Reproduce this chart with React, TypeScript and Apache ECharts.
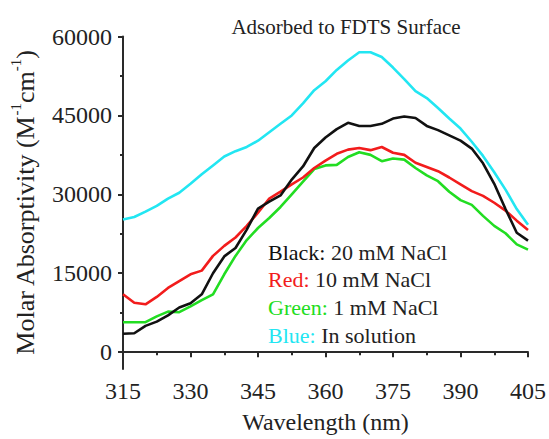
import React, { useEffect, useRef } from 'react';
import * as echarts from 'echarts';

const wavelengths = [
  315, 317.5, 320, 322.5, 325, 327.5, 330, 332.5, 335, 337.5,
  340, 342.5, 345, 347.5, 350, 352.5, 355, 357.5, 360, 362.5,
  365, 367.5, 370, 372.5, 375, 377.5, 380, 382.5, 385, 387.5,
  390, 392.5, 395, 397.5, 400, 402.5, 405,
];

const black20mM = [
  3500, 3600, 5000, 5800, 7000, 8500, 9300, 11000, 15000, 18200,
  19800, 23300, 27300, 28600, 29800, 32800, 35300, 38800, 40800, 42400,
  43600, 43000, 43000, 43400, 44400, 44800, 44500, 43000, 42200, 41200,
  40200, 38700, 35900, 32000, 27200, 22700, 21200,
];

const red10mM = [
  11000, 9400, 9100, 10500, 12200, 13500, 14800, 15500, 18300, 20200,
  21800, 24000, 26500, 29200, 30500, 31900, 33200, 35000, 36400, 37700,
  38500, 38800, 38400, 39000, 37900, 37500, 36000, 35200, 34400, 33200,
  31900, 30600, 29700, 28400, 26900, 25000, 23200,
];

const green1mM = [
  5700, 5700, 5700, 6800, 7700, 7600, 8700, 9900, 11000, 14800,
  18300, 21300, 23600, 25500, 27600, 30000, 32400, 34800, 35500, 35600,
  37100, 38000, 37500, 36300, 36800, 36600, 35000, 33600, 32500, 30500,
  28900, 28000, 25900, 24000, 22600, 20500, 19500,
];

const blueSolution = [
  25200, 25700, 26700, 27800, 29200, 30300, 32000, 33800, 35500, 37200,
  38200, 39000, 40200, 41800, 43400, 45000, 47300, 49800, 51500, 53650,
  55450, 57000, 57000, 56100, 54100, 51900, 49600, 48300, 46400, 44400,
  42500, 40000, 37300, 34200, 30900, 27200, 24200,
];

const yTickValues = [0, 15000, 30000, 45000, 60000];
const yMinorTickValues = [7500, 22500, 37500, 52500];

const legendEntries = [
  { key: 'Black:', rest: ' 20 mM NaCl', color: '#111111' },
  { key: 'Red:', rest: ' 10 mM NaCl', color: '#f21c1c' },
  { key: 'Green:', rest: ' 1 mM NaCl', color: '#22dd22' },
  { key: 'Blue:', rest: ' In solution', color: '#22e6f2' },
];

export default function App() {
  const ref = useRef<HTMLDivElement>(null);

  useEffect(() => {
    if (!ref.current) return;
    const chart = echarts.init(ref.current, null, { renderer: 'svg' });
    const font = 'Liberation Serif, Times New Roman, serif';
    const textColor = '#222222';
    const axisColor = '#2a2a2a';
    const toPairs = (vals: number[]) => wavelengths.map((w, i) => [w, vals[i]]);

    const mkSeries = (name: string, vals: number[], color: string) => ({
      name,
      type: 'line',
      data: toPairs(vals),
      showSymbol: false,
      smooth: false,
      lineStyle: { color, width: 2.6 },
      itemStyle: { color },
      z: 3,
    });

    chart.setOption({
      animation: false,
      textStyle: { fontFamily: font },
      grid: { left: 116, right: 20, top: 36.5, bottom: 66.7 },
      xAxis: {
        type: 'value',
        min: 315,
        max: 405,
        interval: 15,
        name: 'Wavelength (nm)',
        nameLocation: 'middle',
        nameGap: 41,
        nameTextStyle: { fontFamily: font, fontSize: 24, color: textColor },
        axisLine: { show: true, lineStyle: { color: axisColor, width: 2 } },
        axisTick: { show: true, length: 5, lineStyle: { color: axisColor, width: 2 } },
        minorTick: { show: true, splitNumber: 2, length: 3, lineStyle: { color: axisColor, width: 2 } },
        splitLine: { show: false },
        axisLabel: { fontFamily: font, fontSize: 24, color: textColor, margin: 10 },
      },
      yAxis: [
        {
          type: 'value',
          min: -3200,
          max: 60000,
          position: 'left',
          name: '{a|Molar Absorptivity (M}{s|-1}{a|cm}{s|-1}{a|)}',
          nameLocation: 'middle',
          nameRotate: 90,
          nameGap: 85,
          nameTextStyle: {
            fontFamily: font,
            fontSize: 26,
            color: textColor,
            rich: {
              a: { fontFamily: font, fontSize: 26, color: textColor, lineHeight: 30, verticalAlign: 'bottom' },
              s: { fontFamily: font, fontSize: 15, color: textColor, lineHeight: 30, verticalAlign: 'top', padding: [0, 0, 10, 0] },
            },
          },
          axisLine: { show: true, onZero: false, lineStyle: { color: axisColor, width: 2 } },
          axisTick: { show: true, length: 5, customValues: yTickValues, lineStyle: { color: axisColor, width: 2 } },
          splitLine: { show: false },
          axisLabel: {
            show: true,
            customValues: yTickValues,
            fontFamily: font,
            fontSize: 24,
            color: textColor,
            margin: 11,
            formatter: (v: number) => String(Math.round(v)),
          },
        },
        {
          type: 'value',
          min: -3200,
          max: 60000,
          position: 'left',
          axisLine: { show: false },
          axisTick: { show: true, length: 3, customValues: yMinorTickValues, lineStyle: { color: axisColor, width: 2 } },
          axisLabel: { show: false },
          splitLine: { show: false },
        },
      ],
      series: [
        mkSeries('Blue: In solution', blueSolution, '#22e6f2'),
        mkSeries('Green: 1 mM NaCl', green1mM, '#22dd22'),
        mkSeries('Red: 10 mM NaCl', red10mM, '#f21c1c'),
        mkSeries('Black: 20 mM NaCl', black20mM, '#111111'),
      ],
      graphic: [
        {
          type: 'text',
          x: 346,
          y: 27,
          style: {
            text: 'Adsorbed to FDTS Surface',
            fontFamily: font,
            fontSize: 21,
            fill: textColor,
            align: 'center',
            verticalAlign: 'middle',
          },
        },
        ...legendEntries.map((e, i) => ({
          type: 'text',
          x: 268,
          y: 252 + i * 27.8,
          style: {
            text: `{k|${e.key}}{t|${e.rest}}`,
            verticalAlign: 'middle',
            align: 'left',
            fontFamily: font,
            fontSize: 22,
            rich: {
              k: { fill: e.color, fontFamily: font, fontSize: 22 },
              t: { fill: textColor, fontFamily: font, fontSize: 22 },
            },
          },
        })),
      ],
    });

    return () => chart.dispose();
  }, []);

  return (
    <div
      ref={ref}
      style={{ position: 'fixed', left: 0, top: 0, width: 549, height: 439, background: '#ffffff' }}
    />
  );
}
